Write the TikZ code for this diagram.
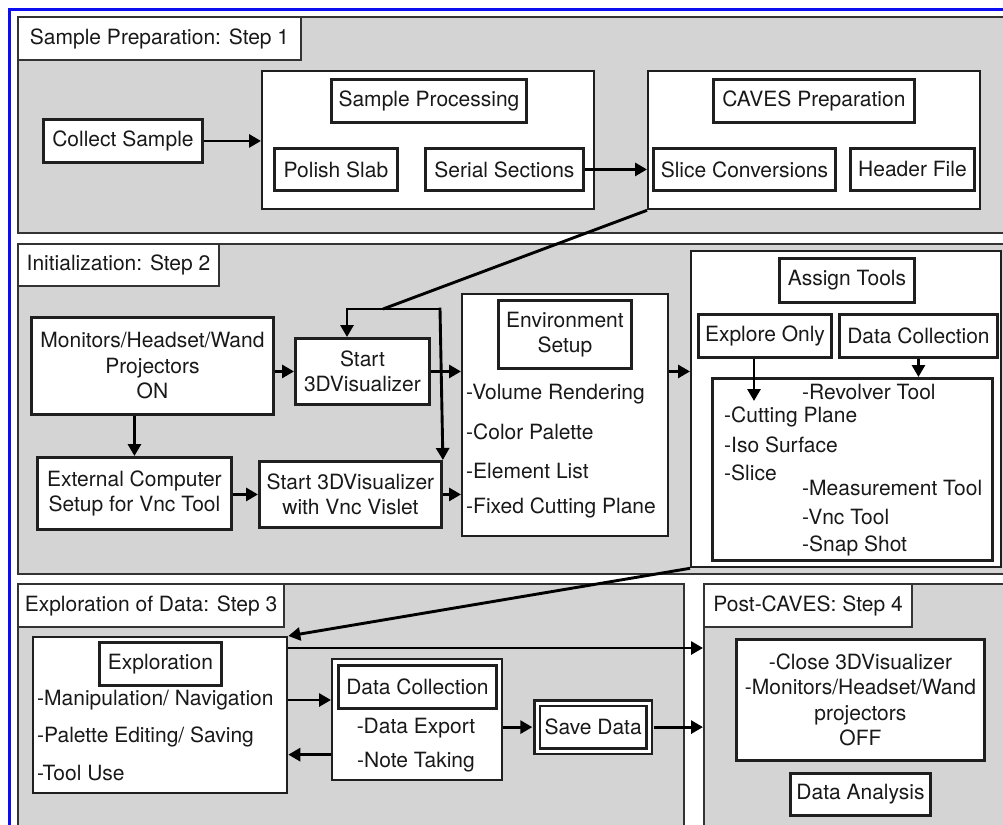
\documentclass[tikz,border=0pt]{standalone}
\usepackage{fontspec}
\setmainfont{TeX Gyre Heros}
\usepackage{tikz}
\usetikzlibrary{arrows.meta}
\definecolor{panel gray}{rgb}{0.83, 0.83, 0.83}
\definecolor{edge gray}{rgb}{0.2, 0.2, 0.2}
\definecolor{frame blue}{rgb}{0.05, 0.05, 0.95}

\begin{document}
\begin{tikzpicture}[x=1pt, y=-1pt,
		font=\fontsize{21}{25.5}\selectfont, text=black!90,
		panel/.style={draw=edge gray, fill=panel gray, line width=2pt, inner sep=0pt, anchor=north west},
		headbox/.style={draw=edge gray, fill=white, line width=2pt, inner sep=0pt, anchor=north west},
		group/.style={draw=black!88, fill=white, line width=2.3pt, inner sep=0pt, anchor=north west},
		box/.style={draw=black!88, fill=white, line width=2.9pt, inner sep=0pt, anchor=north west, align=center},
		item/.style={inner sep=0pt, anchor=west},
		link/.style={line width=2.9pt},
		flow/.style={line width=2.9pt, -{Triangle[length=12pt, width=13pt]}}]
	\useasboundingbox (0, 0) rectangle (1003, 824);
	% outline
	\draw[frame blue, line width=2.8pt] (9.5, 830) -- (9.5, 9.5) -- (1010, 9.5);
	% part for the four steps
	\node[panel, minimum width=991pt, minimum height=216pt] (stepone) at (17, 16) {};
	\node[panel, minimum width=991pt, minimum height=330pt] (steptwo) at (17, 243) {};
	\node[panel, minimum width=666pt, minimum height=247pt] (stepthree) at (17, 583) {};
	\node[panel, minimum width=305pt, minimum height=247pt] (stepfour) at (703, 583) {};
	\node[headbox, minimum width=283pt, minimum height=43pt] (headone) at (17, 16) {Sample Preparation: Step 1};
	\node[headbox, minimum width=201pt, minimum height=42pt] (headtwo) at (17, 243) {Initialization: Step 2};
	\node[headbox, minimum width=266pt, minimum height=43pt] (headthree) at (17, 583) {Exploration of Data: Step 3};
	\node[headbox, minimum width=208pt, minimum height=43pt] (headfour) at (703, 583) {Post-CAVES: Step 4};
	% part for step 1
	\begin{scope}
		\node[box, minimum width=159pt, minimum height=43pt] (collect) at (42, 118) {Collect Sample};
		\node[group, minimum width=332pt, minimum height=138pt] (processing) at (261, 70) {};
		\node[box, minimum width=195pt, minimum height=43pt] (processhead) at (330, 78) {Sample Processing};
		\node[box, minimum width=123pt, minimum height=42pt] (polish) at (273, 147) {Polish Slab};
		\node[box, minimum width=158pt, minimum height=42pt] (serial) at (424, 147) {Serial Sections};
		\node[group, minimum width=332pt, minimum height=138pt] (caves) at (647, 70) {};
		\node[box, minimum width=201pt, minimum height=43pt] (caveshead) at (712, 78) {CAVES Preparation};
		\node[box, minimum width=182pt, minimum height=42pt] (slices) at (652, 147) {Slice Conversions};
		\node[box, minimum width=124pt, minimum height=42pt] (header) at (849, 147) {Header File};
		\draw[flow] (collect.east) -- (collect.east -| processing.west);
		\draw[flow] (serial.east) -- (serial.east -| caves.west);
	\end{scope}
	% part for step 2
	\begin{scope}
		\node[box, minimum width=242pt, minimum height=97pt] (monitors) at (30, 316) {Monitors/Headset/Wand\\Projectors\\ON};
		\node[box, minimum width=134pt, minimum height=66pt] (start) at (294, 337) {Start\\3DVisualizer};
		\node[box, minimum width=194pt, minimum height=72pt] (external) at (36, 456) {External Computer\\Setup for Vnc Tool};
		\node[box, minimum width=182pt, minimum height=66pt] (startvnc) at (258, 460) {Start 3DVisualizer\\with Vnc Vislet};
		\node[group, minimum width=206pt, minimum height=242pt] (environment) at (461, 293) {};
		\node[box, minimum width=133pt, minimum height=68pt] (envhead) at (497, 299) {Environment\\Setup};
		\node[item] (volume) at (466, 394) {-Volume Rendering};
		\node[item] (colors) at (466, 432) {-Color Palette};
		\node[item] (elements) at (466, 471) {-Element List};
		\node[item] (fixedplane) at (466, 508) {-Fixed Cutting Plane};
		\node[group, minimum width=310pt, minimum height=316pt] (assign) at (690, 250) {};
		\node[box, minimum width=135pt, minimum height=44pt] (assignhead) at (778, 257) {Assign Tools};
		\node[box, minimum width=133pt, minimum height=43pt] (exploreonly) at (697, 313) {Explore Only};
		\node[box, minimum width=158pt, minimum height=43pt] (collecttools) at (838, 313) {Data Collection};
		\node[group, line width=2.7pt, minimum width=280pt, minimum height=182pt] (tools) at (711, 377) {};
		\node[item] (revolver) at (802, 392) {-Revolver Tool};
		\node[item] (cutting) at (724, 417) {-Cutting Plane};
		\node[item] (iso) at (724, 445) {-Iso Surface};
		\node[item] (slice) at (724, 473) {-Slice};
		\node[item] (measure) at (802, 488) {-Measurement Tool};
		\node[item] (vnc) at (802, 517) {-Vnc Tool};
		\node[item] (snapshot) at (802, 546) {-Snap Shot};
		% connectors
		\coordinate (jleft) at (347, 309);
		\coordinate (jmid) at (383, 309);
		\coordinate (jright) at (440, 309);
		\coordinate (eotip) at (754, 401);
		\draw[link] (caves.south west) -- (jmid);
		\draw[flow] (jright) -- (jleft) -- (jleft |- start.north);
		\draw[flow, shorten <=-1.45pt] (jright) -- (startvnc.north east);
		\draw[flow] (monitors.east |- start.west) -- (start.west);
		\draw[flow] (start.east) -- (start.east -| environment.west);
		\draw[flow] (monitors.south -| external.north) -- (external.north);
		\draw[flow] (external.east |- startvnc.west) -- (startvnc.west);
		\draw[flow] (startvnc.east) -- (startvnc.east -| environment.west);
		\draw[flow] (environment.east |- start.east) -- (start.east -| assign.west);
		\draw[flow] (exploreonly.south -| eotip) -- (eotip);
		\draw[flow] (collecttools.south) -- (collecttools.south |- tools.north);
	\end{scope}
	% part for step 3
	\begin{scope}
		\node[group, minimum width=254pt, minimum height=156pt] (explore) at (32, 636) {};
		\node[box, minimum width=122pt, minimum height=43pt] (explorehead) at (98, 641) {Exploration};
		\node[item] (manip) at (37, 700) {-Manipulation/ Navigation};
		\node[item] (palette) at (37, 737) {-Palette Editing/ Saving};
		\node[item] (tooluse) at (37, 773) {-Tool Use};
		\node[group, minimum width=170pt, minimum height=121pt] (datacoll) at (331, 658) {};
		\node[box, minimum width=158pt, minimum height=43pt] (datahead) at (337, 664) {Data Collection};
		\node[inner sep=0pt] (export) at (416, 728) {-Data Export};
		\node[inner sep=0pt] (notes) at (416, 762) {-Note Taking};
		\node[box, line width=2.2pt, double, double distance=3pt, minimum width=112pt, minimum height=48pt] (save) at (536, 702) {Save Data};
		\draw[flow] (assign.south west) -- (explore.north east);
		\draw[flow] ([yshift=-12pt]explore.north east) -- ([yshift=-12pt]explore.north east -| stepfour.west);
		\draw[flow] (manip.east -| explore.east) -- (manip.east -| datacoll.west);
		\draw[flow] ([yshift=-35pt]datacoll.west) -- ([yshift=-35pt]datacoll.west -| explore.east);
		\draw[flow, shorten >=3.7pt] (save.west -| datacoll.east) -- (save.west);
		\draw[flow, shorten <=3.7pt] (save.east) -- (save.east -| stepfour.west);
	\end{scope}
	% part for step 4
	\begin{scope}
		\node[box, minimum width=248pt, minimum height=121pt] (closing) at (735, 638) {-Close 3DVisualizer\\-Monitors/Headset/Wand\\projectors\\OFF};
		\node[box, minimum width=140pt, minimum height=42pt] (analysis) at (789, 772) {Data Analysis};
	\end{scope}
\end{tikzpicture}
\end{document}
